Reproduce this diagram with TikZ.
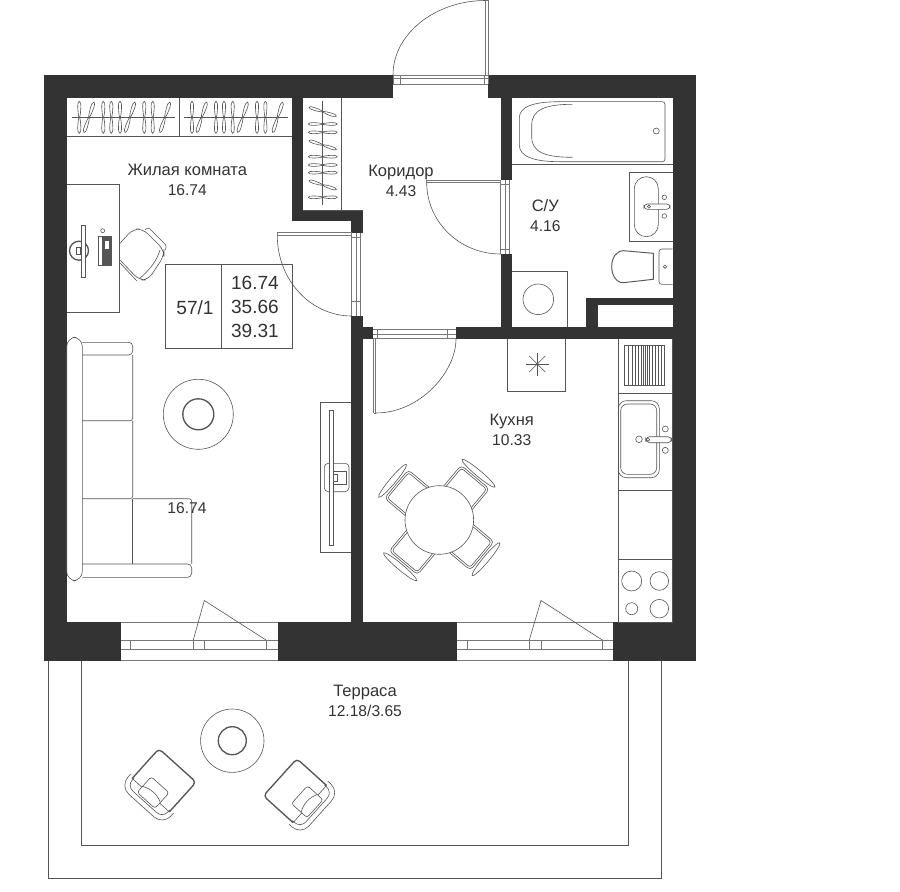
\documentclass[tikz,border=0pt]{standalone}
\usepackage{fontspec}
\setmainfont{Liberation Sans}
\usetikzlibrary{calc}
\definecolor{wallgrey}{HTML}{333333}
\definecolor{linegrey}{HTML}{555555}
\newcommand{\wallcolor}{wallgrey}
\newcommand{\linecolor}{linegrey}
\newcommand{\roomname}{\fontsize{12.4}{15}\selectfont}
\tikzset{
  fur/.style={draw=\linecolor,line width=0.45pt},
  heavy/.style={draw=\linecolor,line width=1pt},
  frameline/.style={draw=\linecolor!80,line width=0.45pt},
  roomlabel/.style={text=\wallcolor,align=center,inner sep=0pt,font=\fontsize{11.7}{15}\selectfont},
  arealabel/.style={text=\wallcolor,inner sep=0pt,font=\fontsize{14.3}{18}\selectfont},
  hanger/.pic={
    \draw[fur] (0,-16) .. controls (2.4,-16) and (1.6,-5) .. (0.4,0) .. controls (1.6,5) and (2.4,16) .. (0,16)
      .. controls (-2.4,16) and (-1.6,5) .. (-0.4,0) .. controls (-1.6,-5) and (-2.4,-16) .. (0,-16) -- cycle;
  },
  dinechair/.pic={
    \draw[fur,rounded corners=3pt] (15,-18.5) -- (56,-18.5) -- (56,18.5) -- (15,18.5);
    \draw[fur,rounded corners=2pt] (15,-16.5) -- (54,-16.5) -- (54,16.5) -- (15,16.5);
    \draw[fur] (61,0) ellipse [x radius=3,y radius=21.5];
  },
  armchair/.pic={
    \draw[heavy,rounded corners=3pt] (-15,25) -- (25,25) -- (25,-25) -- (-15,-25);
    \draw[fur,rounded corners=9pt] (-13,29) -- (-29,29) -- (-29,-29) -- (-13,-29);
    \draw[fur,rounded corners=6pt] (-13,24) -- (-24,24) -- (-24,-24) -- (-13,-24);
    \draw[fur] (-15,25) -- (-15,-25);
    \draw[fur,fill=white,rounded corners=2pt] (-22,-12) rectangle (-1,12);
    \draw[fur] (-14,-12) .. controls (-10,-4) and (-10,4) .. (-14,12);
  }
}

\begin{document}
\begin{tikzpicture}[x=0.75pt,y=-0.75pt]
\useasboundingbox (0,0) rectangle (900,892);
%walls
\fill[\wallcolor] (43.5,75) rectangle (696,660.7);
\fill[white] (66.7,97.7) rectangle (292,622);
\fill[white] (292,221) rectangle (351,622);
\fill[white] (351,232.7) rectangle (362.7,316);
\fill[white] (303.3,97.7) rectangle (500.7,210);
\fill[white] (362.7,205) rectangle (500.7,327.3);
\fill[white] (393,75) rectangle (488,100);
\fill[white] (500,180) rectangle (512,254);
\fill[white] (511.7,97.7) rectangle (672.7,327.3);
\fill[\wallcolor] (585.7,298) rectangle (672.7,305);
\fill[\wallcolor] (585.7,298) rectangle (598,330);
\fill[white] (373.3,326) rectangle (456,340);
\fill[white] (362.7,339) rectangle (672.7,622);
\fill[white] (121,621) rectangle (278.3,660.7);
\fill[white] (457.3,621) rectangle (612.7,660.7);
%terrace
\draw[heavy,line width=0.6pt] (48.3,660.7) -- (48.3,878) -- (661.7,878) -- (661.7,660.7);
\draw[fur,line width=0.6pt] (81.3,660.7) -- (81.3,845.7) -- (628.3,845.7) -- (628.3,660.7);
%windows
\foreach \wx/\wa/\wb/\wc/\wd/\we in {121/130.7/193.3/204.3/266/278.3,457.3/467.3/529.3/541/602.3/612.7}{
  \draw[frameline] (\wx,622) -- (\we,622);
  \draw[frameline] (\wx,640) -- (\we,640);
  \draw[frameline] (\wx,649.3) -- (\we,649.3);
  \draw[frameline] (\wx,660.3) -- (\we,660.3);
  \draw[frameline] (\wa,640) -- (\wa,649.3);
  \draw[frameline] (\wb,640) -- (\wb,649.3);
  \draw[frameline] (\wc,640) -- (\wc,649.3);
  \draw[frameline] (\wd,640) -- (\wd,649.3);
  \draw[fur] (\wb,640) -- (\wc,600.5) -- (\wd,640);
}
%entrance door
\foreach \fy in {75.5,78,84}{\draw[frameline] (393,\fy) -- (488,\fy);}
\foreach \fx in {393,400,484,488}{\draw[frameline] (\fx,75.5) -- (\fx,84);}
\draw[frameline] (485.7,0.5) -- (485.7,75) (488,0.5) -- (488,75) (485.7,0.5) -- (488,0.5);
\draw[fur] (393,75) .. controls (393,34) and (435,0.5) .. (485.7,0.5);
%room door
\foreach \fx in {351.7,356,360.5}{\draw[frameline] (\fx,232.7) -- (\fx,316);}
\foreach \fy in {237,301}{\draw[frameline] (351.7,\fy) -- (360.5,\fy);}
\draw[frameline] (277.3,232.7) -- (351.7,232.7) (277.3,235.5) -- (351.7,235.5) (277.3,232.7) -- (277.3,235.5);
\draw[fur] (277.3,235.5) .. controls (277.3,280) and (310.7,316) .. (351.7,316);
%bathroom door
\foreach \fx in {500.7,505,509.3}{\draw[frameline] (\fx,180) -- (\fx,254);}
\foreach \fy in {184,249}{\draw[frameline] (500.7,\fy) -- (509.3,\fy);}
\draw[frameline] (426.7,180) -- (500.7,180) (426.7,182.5) -- (500.7,182.5) (426.7,180) -- (426.7,182.5);
\draw[fur] (426.7,182.5) .. controls (426.7,222) and (459.7,254) .. (500.7,254);
%kitchen door
\foreach \fy in {329.3,334,338.3}{\draw[frameline] (373.3,\fy) -- (456,\fy);}
\foreach \fx in {377.7,447.3}{\draw[frameline] (\fx,329.3) -- (\fx,338.3);}
\draw[frameline] (373.5,339) -- (373.5,413) (375.7,339) -- (375.7,413) (373.5,413) -- (375.7,413);
\draw[fur] (375.7,413) .. controls (420,413) and (456,372) .. (456,339);
%wardrobes
\draw[fur] (66.7,136) -- (292,136);
\draw[fur] (179.3,97.7) -- (179.3,136);
\draw[fur] (71.7,117.3) -- (175,117.3);
\draw[fur] (184,117.3) -- (288,117.3);
\foreach \hx/\hang in {79.3/0,89/-18,103.3/0,111.3/0,120/0,130/-18,144.3/0,152.7/0,165/-18}{
  \pic[rotate=\hang] at (\hx,117.3) {hanger};
  \pic[rotate=\hang] at ({\hx+112.7},117.3) {hanger};
}
\draw[fur] (341.7,97.7) -- (341.7,210);
\draw[fur] (303.3,210) -- (362.7,210);
\draw[fur] (322.7,101) -- (322.7,205);
\foreach \hy/\hang in {111.7/72,124/90,132.3/90,145/72,156.7/90,165/90,172.7/90,185/72,197.3/90}{
  \pic[rotate=\hang,scale=0.9] at (322.7,\hy) {hanger};
}
%desk
\draw[fur] (66.7,184.3) -- (119.3,184.3) -- (119.3,312.7) -- (66.7,312.7);
\draw[heavy] (79,250.7) circle (9.5);
\draw[fur] (76,247.5) rectangle (80.5,254);
\draw[heavy,line width=0.7pt,fill=white] (81.7,225) rectangle (85.7,277);
\draw[fur] (98.3,236) rectangle (111.7,265);
\fill[\linecolor] (101.5,237) rectangle (111.7,265);
\fill[white] (104.5,241) rectangle (109,249);
\draw[fur] (102.7,230.7) circle (2);
%office chair
\draw[fur,rounded corners=5pt] (120,243.3) -- (133,229) -- (143,229) -- (164,250) -- (164,256) -- (148,280) -- (139,280) -- (120,260);
\draw[fur,rounded corners=2pt] (145,230) -- (148,227) -- (167,246) -- (165,250);
\draw[fur] (120,263) -- (137,281);
\draw[fur] (139,279) .. controls (150,270) and (157,260) .. (160,250);
%area table
\draw[fur] (165.7,264.7) rectangle (292.7,348.3);
\draw[fur] (221.7,264.7) -- (221.7,348.3);
\node[arealabel] (flat) at (195,308) {57/1};
\node[arealabel] (living) at (255,283) {16.74};
\node[arealabel] (total) at (255,307) {35.66};
\node[arealabel] (full) at (255,331) {39.31};
%sofa
\draw[fur,rounded corners=7pt] (66.7,337.3) rectangle (82.3,580.7);
\draw[fur,rounded corners=3pt] (82.3,342.3) -- (132.7,342.3) -- (132.7,355) -- (82.3,355);
\draw[fur,rounded corners=2pt] (132.7,355) -- (132.7,420.7) -- (82.3,420.7);
\draw[fur,rounded corners=2pt] (132.7,420.7) -- (132.7,498.7) -- (82.3,498.7);
\draw[fur] (132.7,498.7) -- (132.7,564);
\draw[fur,rounded corners=2pt] (132.7,498.7) -- (191.7,498.7) -- (191.7,564);
\draw[fur,rounded corners=3pt] (82.3,564) -- (191.7,564) -- (191.7,577.3) -- (82.3,577.3);
%carpet
\draw[fur] (198.3,414.3) circle (35);
\draw[heavy] (198.3,414.3) circle (15.5);
%tv
\draw[fur] (351,402.3) -- (320.7,402.3) -- (320.7,552.3) -- (351,552.3);
\draw[fur,rounded corners=3pt] (324.3,463.3) rectangle (349,491.7);
\draw[fur,fill=white] (329.3,410) rectangle (333,545);
\draw[fur] (333,471) rectangle (346.7,484.3);
\draw[fur] (333,474) rectangle (337,481);
%bath
\draw[fur,rounded corners=2pt] (560,101.7) -- (665,101.7) -- (665,161.7) -- (560,161.7);
\draw[fur] (560,101.7) .. controls (535,101.7) and (519.3,106) .. (519.3,118) -- (519.3,145)
  .. controls (519.3,157) and (535,161.7) .. (560,161.7);
\draw[fur] (572.3,104.3) .. controls (545,104.3) and (531.7,110) .. (531.7,125) -- (531.7,137)
  .. controls (531.7,152) and (545,157.3) .. (572.3,157.3);
\draw[fur] (656.3,131) circle (3);
\draw[fur] (511.7,164) -- (672.7,164);
%washbasin
\draw[fur] (672.7,172.7) -- (629.3,172.7) -- (629.3,241.3) -- (672.7,241.3);
\draw[fur,rounded corners=9pt] (634.3,176.7) rectangle (658.3,236.7);
\draw[fur,fill=white,rounded corners=2.5pt] (644,204) rectangle (670,209.3);
\draw[fur] (649,206.7) circle (1.6);
\draw[fur] (664.3,197.3) circle (2.3);
\draw[fur] (664.3,216) circle (2.3);
%toilet
\draw[fur,rounded corners=2pt] (672.7,249) -- (659,249) -- (659,284.3) -- (672.7,284.3);
\draw[fur] (665,266.7) circle (1.7);
\draw[heavy,line width=0.7pt] (653.3,253.3) -- (623.3,250.7) .. controls (616,251) and (611.7,258) .. (611.7,266.5)
  .. controls (611.7,275) and (616,282.7) .. (623.3,282.7) -- (653.3,279.3) -- cycle;
%washer
\draw[fur] (511.7,271.7) -- (567.3,271.7) -- (567.3,327.3);
\draw[fur] (538.3,299.3) circle (15.3);
%kitchen unit
\draw[fur] (618.3,339) -- (618.3,622) -- (672.7,622);
\draw[fur] (672.7,339) -- (672.7,622);
\foreach \ky in {393.3,490.7,559.3}{\draw[fur] (618.3,\ky) -- (672.7,\ky);}
\draw[fur] (624.3,345) rectangle (664,385);
\foreach \kx in {628,632,635,638,641,643,645,647,649,652,655,658,661}{\draw[fur] (\kx,345) -- (\kx,385);}
\draw[fur,rounded corners=6pt] (618.3,400.7) rectangle (659.3,477.7);
\draw[fur,rounded corners=5pt] (620.7,404) rectangle (656.7,474.3);
\draw[fur,fill=white,rounded corners=3pt] (645.7,436.7) rectangle (671.7,442.7);
\draw[fur] (665.3,429) circle (3);
\draw[fur] (665.3,450.3) circle (3);
\draw[fur] (639,439.3) circle (3.3);
\draw[fur] (648,439.7) circle (1.7);
\draw[fur] (631.7,581) circle (10);
\draw[fur] (659.3,581) circle (9.3);
\draw[fur] (631.7,608.7) circle (6);
\draw[fur] (659.3,608.7) circle (9.3);
%vent
\draw[fur] (507.7,339) -- (507.7,391.7) -- (565,391.7) -- (565,339);
\foreach \ang in {0,45,...,315}{\draw[fur] (537.3,364) -- ++(\ang:11.5);}
\fill[\linecolor] (537.3,364) circle (1.3);
%dining
\foreach \ang in {50,140,230,320}{\pic[rotate=\ang] at (439.3,520) {dinechair};}
\draw[fur,fill=white] (439.3,520) circle (34.3);
%terrace furniture
\draw[fur] (232.3,740.7) circle (31.7);
\draw[heavy] (232.3,740.7) circle (14);
\pic[rotate=48] at (160.8,784) {armchair};
\pic[rotate=138] at (298.7,794) {armchair};
%labels
\node[roomlabel] (room) at (187.3,180) {{\roomname Жилая комната}\\16.74};
\node[roomlabel] (hall) at (401,181) {{\roomname Коридор}\\4.43};
\node[roomlabel] (bathroom) at (545.3,215.3) {{\roomname С/У}\\4.16};
\node[roomlabel] (kitchen) at (511.7,429.5) {{\roomname Кухня}\\10.33};
\node[roomlabel] (sofaarea) at (187,508) {16.74};
\node[roomlabel] (terrace) at (365,701) {{\roomname Терраса}\\12.18/3.65};
\end{tikzpicture}
\end{document}
